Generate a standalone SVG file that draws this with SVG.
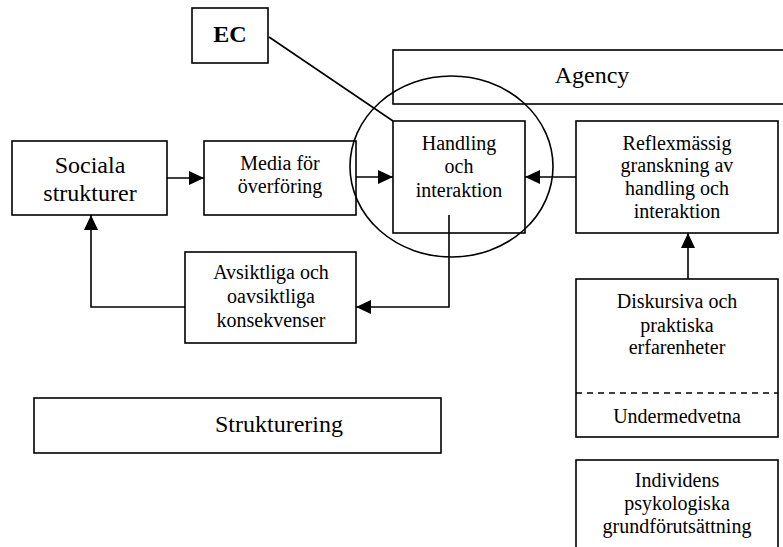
<svg xmlns="http://www.w3.org/2000/svg" width="783" height="547" viewBox="0 0 783 547">
<style>
.box{fill:#fff;stroke:#000;stroke-width:1.6}
.t{font-family:"Liberation Serif","Times New Roman",serif;font-size:20px;fill:#000;text-anchor:middle}
.big{font-size:24px}
.c{fill:none;stroke:#000;stroke-width:1.6}
</style>
<defs>
<marker id="ah" markerUnits="userSpaceOnUse" markerWidth="16" markerHeight="16" viewBox="0 0 16 16" refX="15" refY="8" orient="auto">
<path d="M0,1 L15,8 L0,15 Z" fill="#000"/>
</marker>
</defs>
<g id="agency"><rect class="box" x="393" y="50" width="400" height="54"/><text class="t big" x="592" y="83">Agency</text></g>
<g id="sociala"><rect class="box" x="12" y="141" width="155" height="74"/><text class="t big" x="90" y="173">Sociala</text><text class="t big" x="90" y="201">strukturer</text></g>
<g id="media"><rect class="box" x="204" y="141" width="152" height="74"/><text class="t" x="280" y="170">Media för</text><text class="t" x="280" y="193">överföring</text></g>
<g id="handling"><rect class="box" x="393" y="121" width="132" height="112"/><text class="t" x="459" y="150">Handling</text><text class="t" x="459" y="173">och</text><text class="t" x="459" y="197">interaktion</text></g>
<g id="reflex"><rect class="box" x="576" y="121" width="202" height="112"/><text class="t" x="677" y="150">Reflexmässig</text><text class="t" x="677" y="172">granskning av</text><text class="t" x="677" y="195">handling och</text><text class="t" x="677" y="218">interaktion</text></g>
<g id="ec"><rect class="box" x="192" y="8" width="76" height="55"/><text class="t big" x="230" y="42" font-weight="bold">EC</text></g>
<g id="avsiktliga"><rect class="box" x="185" y="252" width="171" height="91"/><text class="t" x="271" y="279">Avsiktliga och</text><text class="t" x="271" y="303">oavsiktliga</text><text class="t" x="271" y="327">konsekvenser</text></g>
<g id="strukturering"><rect class="box" x="34" y="398" width="407" height="55"/><text class="t big" x="279" y="432">Strukturering</text></g>
<g id="diskursiva"><rect class="box" x="576" y="279" width="202" height="158"/><line x1="576" y1="393" x2="778" y2="393" stroke="#000" stroke-width="1.6" stroke-dasharray="6,5"/><text class="t" x="677" y="308">Diskursiva och</text><text class="t" x="677" y="332">praktiska</text><text class="t" x="677" y="354">erfarenheter</text><text class="t" x="677" y="423">Undermedvetna</text></g>
<g id="individens"><rect class="box" x="576" y="460" width="202" height="100"/><text class="t" x="677" y="487">Individens</text><text class="t" x="677" y="510">psykologiska</text><text class="t" x="677" y="533">grundförutsättning</text></g>
<g id="connectors">
<line class="c" x1="167" y1="178" x2="204" y2="178" marker-end="url(#ah)"/>
<line class="c" x1="356" y1="177" x2="393" y2="177" marker-end="url(#ah)"/>
<line class="c" x1="576" y1="177" x2="525" y2="177" marker-end="url(#ah)"/>
<line class="c" x1="688" y1="279" x2="688" y2="233" marker-end="url(#ah)"/>
<path class="c" d="M449,215 V307 H356" marker-end="url(#ah)"/>
<path class="c" d="M185,307 H91 V215" marker-end="url(#ah)"/>
<line class="c" x1="269" y1="37" x2="393" y2="121"/>
<ellipse class="c" cx="451.5" cy="166.5" rx="101.5" ry="90.5"/>
</g>
</svg>
